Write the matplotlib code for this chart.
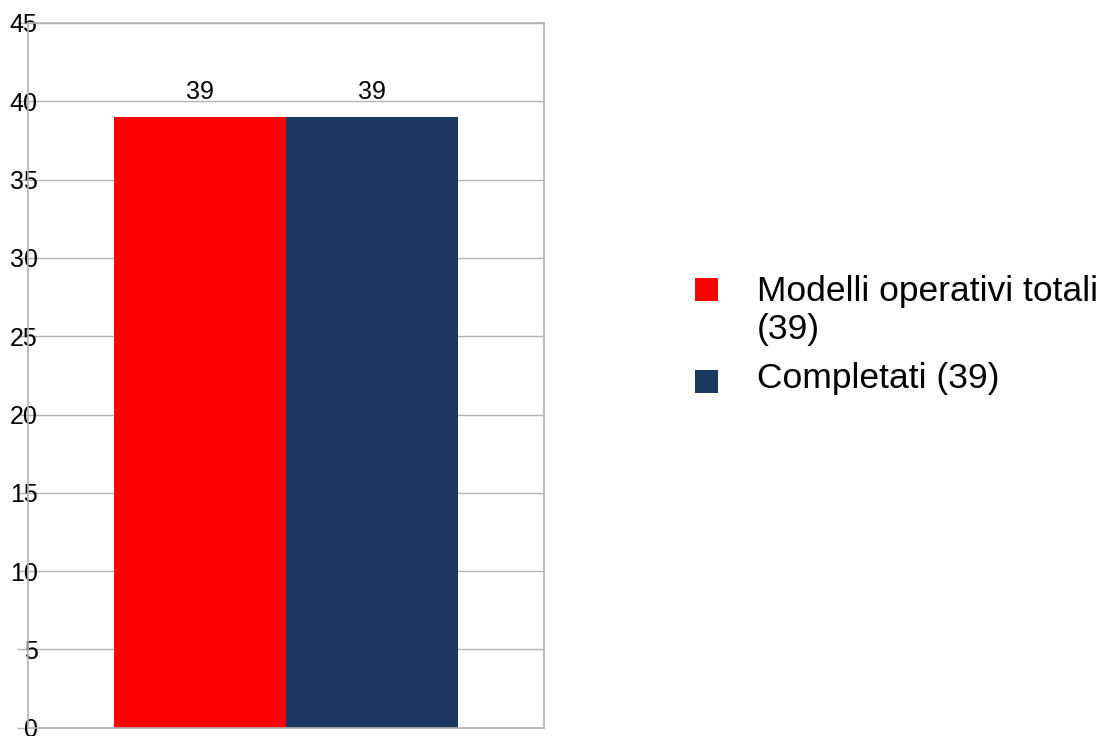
import matplotlib
matplotlib.use("Agg")
import matplotlib.pyplot as plt
from matplotlib.patches import Rectangle

plt.rcParams['font.family'] = ['Liberation Sans', 'DejaVu Sans']

series_labels = ["Modelli operativi totali\n(39)", "Completati (39)"]
values = [39, 39]
colors = ["#ff0000", "#1a3860"]
y_ticks = [0, 5, 10, 15, 20, 25, 30, 35, 40, 45]

W, H = 1118, 736
fig = plt.figure(figsize=(W / 100, H / 100), dpi=100)
ax = fig.add_axes([28 / W, 1 - 727.7 / H, (544 - 28) / W, (727.7 - 23) / H])

bar_w = 1 / 3
offsets = [-bar_w / 2, bar_w / 2]
for off, v, c, lab in zip(offsets, values, colors, series_labels):
    b = ax.bar([off], [v], width=bar_w, color=c, label=lab, zorder=2)
    ax.bar_label(b, labels=[str(v)], padding=9, fontsize=18, color="black")

ax.set_xlim(-0.5, 0.5)
ax.set_ylim(0, 45)
ax.set_xticks([])
ax.set_yticks(y_ticks)
ax.set_yticklabels([str(t) for t in y_ticks], fontsize=18)
ax.tick_params(axis='y', direction='out', length=8, width=1, color="#b3b3b3", pad=-15)
ax.yaxis.grid(True, color="#b3b3b3", linewidth=1, zorder=0)
ax.set_axisbelow(True)
for s in ax.spines.values():
    s.set_color("#b3b3b3")
    s.set_linewidth(1.2)

# Legend: colour squares with labels to the right, drawn in figure pixels
square_tops = [278, 370]
text_baselines = [301, 388]
sq = 23
line_pitch = 38
for top, base, c, lab in zip(square_tops, text_baselines, colors, series_labels):
    fig.add_artist(Rectangle((695 / W, 1 - (top + sq) / H), sq / W, sq / H,
                             transform=fig.transFigure, facecolor=c,
                             edgecolor="none"))
    for i, line in enumerate(lab.split("\n")):
        fig.text(757 / W, 1 - (base + i * line_pitch) / H, line,
                 fontsize=25.5, ha="left", va="baseline", color="black")

fig.savefig("out.png", dpi=100)
